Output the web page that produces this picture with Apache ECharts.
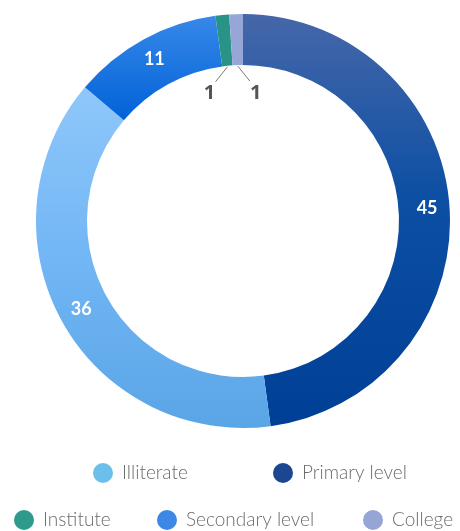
<!DOCTYPE html>
<html>
<head>
<meta charset="utf-8">
<script src="https://cdn.jsdelivr.net/npm/echarts@6/dist/echarts.min.js"></script>
<style>
  html, body { margin: 0; padding: 0; background: #fff; }
  #chart { width: 460px; height: 531px; }
</style>
</head>
<body>
<div id="chart"></div>
<script>
// ---- data ----
const categories = ['Primary level', 'Illiterate', 'Secondary level', 'Institute', 'College'];
const values = [45, 36, 11, 1, 1];
const legendOrder = ['Illiterate', 'Primary level', 'Institute', 'Secondary level', 'College'];

// ---- styles ----
const sliceGradients = {
  'Primary level': [['#4667a9', 0], ['#0c4fa3', 0.45], ['#003f96', 1]],
  'Illiterate': [['#8fc7fa', 0], ['#72b6f5', 0.5], ['#5aa5e6', 1]],
  'Secondary level': [['#3888e8', 0], ['#0062d8', 1]],
  'Institute': [['#2a9387', 0], ['#2a9387', 1]],
  'College': [['#96a6d7', 0], ['#96a6d7', 1]]
};
const legendColors = {
  'Illiterate': '#6cbfea',
  'Primary level': '#1b4691',
  'Institute': '#2e9a8d',
  'Secondary level': '#3d88e6',
  'College': '#95a5d6'
};
const legendPos = {
  'Illiterate': [93, 463],
  'Primary level': [273, 463],
  'Institute': [14, 510],
  'Secondary level': [157, 510],
  'College': [363, 510]
};
const CX = 243, CY = 221, R_IN = 156, R_OUT = 207;
const SMALL = 5;

function grad(stops) {
  return new echarts.graphic.LinearGradient(0, 0, 0, 1,
    stops.map(s => ({ offset: s[1], color: s[0] })));
}

const chart = echarts.init(document.getElementById('chart'), null, { renderer: 'canvas' });

const seriesData = categories.map((name, i) => {
  const small = values[i] <= SMALL;
  return {
    name: name,
    value: values[i],
    itemStyle: { color: grad(sliceGradients[name]) },
    label: small ? {
      show: true,
      position: 'outside',
      formatter: '{c}',
      color: '#555555',
      fontSize: 20,
      fontWeight: 'bold',
      fontFamily: 'Open Sans'
    } : {
      show: true,
      position: 'inside',
      formatter: '{c}',
      color: '#ffffff',
      fontSize: 18,
      fontWeight: 'bold',
      fontFamily: 'Lato'
    },
    labelLine: small ? { show: true, length: 10, length2: 5, lineStyle: { color: '#7a7a7a', width: 1 } } : { show: false }
  };
});

const legends = legendOrder.map(name => ({
  data: [{ name: name, itemStyle: { color: legendColors[name] } }],
  left: legendPos[name][0],
  top: legendPos[name][1],
  padding: 0,
  icon: 'circle',
  itemWidth: 20,
  itemHeight: 20,
  selectedMode: false,
  textStyle: {
    color: '#6b6b6b',
    fontSize: 19,
    fontFamily: 'Lato',
    fontWeight: 300,
    padding: [0, 0, 0, 4]
  }
}));

chart.setOption({
  animation: false,
  backgroundColor: '#ffffff',
  legend: legends,
  series: [{
    type: 'pie',
    center: [CX, CY],
    radius: [R_IN, R_OUT],
    startAngle: 90,
    clockwise: true,
    avoidLabelOverlap: false,
    silent: true,
    data: seriesData,
    labelLayout: function (p) {
      const i = p.dataIndex;
      if (values[i] > SMALL || !p.labelLinePoints) return {};
      const p0 = p.labelLinePoints[0];
      const dx = p0[0] - CX, dy = p0[1] - CY;
      const L = Math.hypot(dx, dy);
      const r = R_IN - 1;
      const sx = CX + dx / L * r, sy = CY + dy / L * r;
      const side = categories[i] === 'Institute' ? -1 : 1;
      const ex = sx + side * 12, ey = sy + 15;
      return {
        x: ex + side * 6,
        y: ey + 12,
        align: 'center',
        verticalAlign: 'middle',
        labelLinePoints: [[sx, sy], [ex, ey], [ex, ey]]
      };
    }
  }]
});
</script>
</body>
</html>
